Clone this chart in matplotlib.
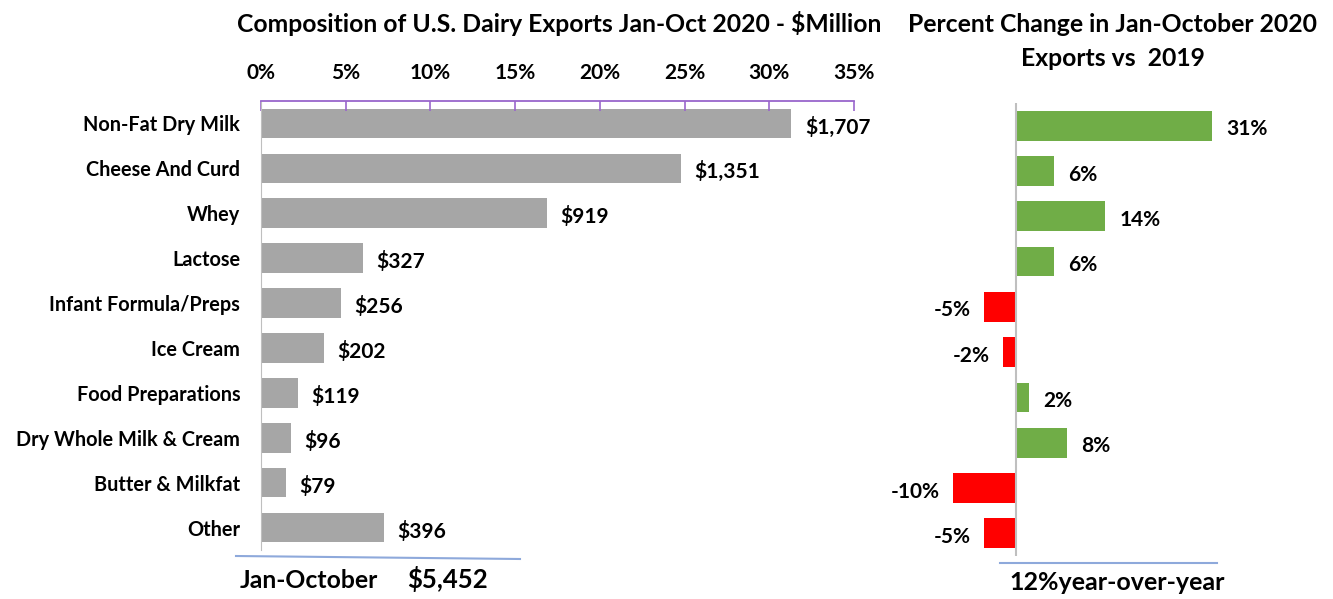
import matplotlib.pyplot as plt
from matplotlib.lines import Line2D
from matplotlib.ticker import FuncFormatter

plt.rcParams["font.family"] = ["Lato", "DejaVu Sans"]
plt.rcParams["font.weight"] = "bold"

categories = [
    "Non-Fat Dry Milk", "Cheese And Curd", "Whey", "Lactose",
    "Infant Formula/Preps", "Ice Cream", "Food Preparations",
    "Dry Whole Milk & Cream", "Butter & Milkfat", "Other",
]
export_values = [1707, 1351, 919, 327, 256, 202, 119, 96, 79, 396]
total_exports = 5452
pct_change = [31, 6, 14, 6, -5, -2, 2, 8, -10, -5]
share_ticks = [0, 5, 10, 15, 20, 25, 30, 35]

W, H = 1333, 599
fig = plt.figure(figsize=(W / 100, H / 100), dpi=100)


def box(x0, y0, x1, y1):
    # pixel box (top-left origin) -> figure fraction rect
    return [x0 / W, 1 - y1 / H, (x1 - x0) / W, (y1 - y0) / H]


# ---- left panel: composition of exports
ax = fig.add_axes(box(261, 101, 854, 550))
shares = [v / total_exports * 100 for v in export_values]
ypos = list(range(len(categories)))
ax.barh(ypos, shares, height=0.66, color="#A6A6A6")
ax.set_xlim(0, 35)
ax.set_ylim(len(categories) - 0.5, -0.5)
ax.set_yticks(ypos)
ax.set_yticklabels(categories, fontsize=14.3)
ax.tick_params(axis="y", length=0, pad=15)
ax.xaxis.tick_top()
ax.set_xticks(share_ticks)
ax.xaxis.set_major_formatter(FuncFormatter(lambda v, _: f"{v:.0f}%"))
ax.tick_params(axis="x", direction="in", length=7, width=1.2, color="#9966CC",
               labelsize=15, pad=13)
for s in ("right", "bottom"):
    ax.spines[s].set_visible(False)
ax.spines["top"].set_color("#9966CC")
ax.spines["top"].set_linewidth(1.3)
ax.spines["left"].set_color("#BFBFBF")
for y, s, v in zip(ypos, shares, export_values):
    ax.text(s + 0.8, y + 0.08, f"${v:,}", va="center", ha="left", fontsize=15)

fig.text(559 / W, 1 - 23 / H, "Composition of U.S. Dairy Exports Jan-Oct 2020 - $Million",
         ha="center", va="center", fontsize=17.8)

# ---- right panel: percent change vs 2019
ax2 = fig.add_axes(box(930, 103, 1250, 556))
colors = ["#70AD47" if p >= 0 else "#FF0000" for p in pct_change]
ax2.barh(ypos, pct_change, height=0.66, color=colors)
ax2.set_xlim(-13.6, 37.0)
ax2.set_ylim(len(categories) - 0.5, -0.5)
ax2.axvline(0, color="#BFBFBF", lw=1.5)
ax2.axis("off")
for y, p in zip(ypos, pct_change):
    if p >= 0:
        ax2.text(p + 2.3, y + 0.08, f"{p}%", va="center", ha="left", fontsize=15)
    else:
        ax2.text(p - 2.1, y + 0.08, f"{p}%", va="center", ha="right", fontsize=15)

fig.text(1113 / W, 1 - 24 / H, "Percent Change in Jan-October 2020", ha="center",
         va="center", fontsize=17.8)
fig.text(1113 / W, 1 - 58 / H, "Exports vs  2019", ha="center", va="center", fontsize=17.8)

# ---- bottom totals
fig.add_artist(Line2D([236 / W, 520 / W], [1 - 556 / H, 1 - 559 / H],
                      color="#8EA9DB", lw=1.5))
fig.text(240 / W, 1 - 581 / H, "Jan-October", ha="left", va="center", fontsize=17.8)
fig.text(407 / W, 1 - 579 / H, "$5,452", ha="left", va="center", fontsize=18.5)
fig.add_artist(Line2D([1000 / W, 1217 / W], [1 - 563 / H, 1 - 563 / H],
                      color="#8EA9DB", lw=1.5))
fig.text(1117 / W, 1 - 583 / H, "12%year-over-year", ha="center", va="center", fontsize=18)

fig.savefig("out.png", dpi=100)
